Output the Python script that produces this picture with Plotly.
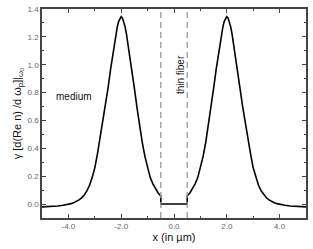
import plotly.graph_objects as go

# Curve (x in µm, y = γ[d(Re n)/dωp]|ω0)
x_vals = [-5.0, -4.8, -4.6, -4.4, -4.2, -4.0, -3.9, -3.8, -3.7, -3.6,
          -3.5, -3.4, -3.3, -3.2, -3.1, -3.0, -2.9, -2.8, -2.7, -2.6,
          -2.5, -2.4, -2.3, -2.2, -2.15, -2.1, -2.05, -2.0, -1.95, -1.9,
          -1.85, -1.8, -1.7, -1.6, -1.5, -1.4, -1.3, -1.2, -1.1, -1.0,
          -0.9, -0.8, -0.7, -0.6, -0.5, -0.5,
          0.5, 0.5, 0.6, 0.7, 0.8, 0.9,
          1.0, 1.1, 1.2, 1.3, 1.4, 1.5, 1.6, 1.7, 1.8, 1.85,
          1.9, 1.95, 2.0, 2.05, 2.1, 2.15, 2.2, 2.3, 2.4, 2.5,
          2.6, 2.7, 2.8, 2.9, 3.0, 3.1, 3.2, 3.3, 3.4, 3.5,
          3.6, 3.7, 3.8, 3.9, 4.0, 4.2, 4.4, 4.6, 4.8, 5.0]
y_vals = [-0.020, -0.019, -0.017, -0.014, -0.008, -0.002, 0.003, 0.010, 0.018, 0.030,
          0.045, 0.065, 0.095, 0.135, 0.190, 0.260, 0.360, 0.470, 0.580, 0.700,
          0.830, 0.970, 1.100, 1.220, 1.270, 1.310, 1.335, 1.345, 1.335, 1.310,
          1.270, 1.220, 1.100, 0.970, 0.830, 0.690, 0.560, 0.440, 0.340, 0.260,
          0.190, 0.145, 0.108, 0.080, 0.058, 0.000,
          0.000, 0.058, 0.080, 0.108, 0.145, 0.190,
          0.260, 0.340, 0.440, 0.560, 0.690, 0.830, 0.970, 1.100, 1.220, 1.270,
          1.310, 1.335, 1.345, 1.335, 1.310, 1.270, 1.220, 1.100, 0.970, 0.830,
          0.700, 0.580, 0.470, 0.360, 0.260, 0.190, 0.135, 0.095, 0.065, 0.045,
          0.030, 0.018, 0.010, 0.003, -0.002, -0.008, -0.014, -0.017, -0.019, -0.020]

fiber_edges = [-0.5, 0.5]
x_ticks = [-4, -2, 0, 2, 4]
x_tick_text = ["-4.0", "-2.0", "0.0", "2.0", "4.0"]
y_ticks = [0.0, 0.2, 0.4, 0.6, 0.8, 1.0, 1.2, 1.4]
y_tick_text = ["0.0", "0.2", "0.4", "0.6", "0.8", "1.0", "1.2", "1.4"]

fig = go.Figure()
fig.add_trace(go.Scatter(x=x_vals, y=y_vals, mode="lines",
                         line=dict(color="black", width=1.6), showlegend=False))

for xe in fiber_edges:
    fig.add_shape(type="line", x0=xe, x1=xe, y0=0, y1=1, xref="x", yref="paper",
                  line=dict(color="#999999", width=1.3, dash="6px,4px"))

fig.add_annotation(x=-3.79, y=0.77, text="medium", showarrow=False,
                   font=dict(size=10, color="#111"))
fig.add_annotation(x=0.25, y=0.93, text="thin fiber", showarrow=False, textangle=-90,
                   font=dict(size=10, color="#111"))

axis_common = dict(showgrid=False, zeroline=False, showline=True, mirror="allticks",
                   linecolor="#444", linewidth=1.5, ticks="inside", ticklen=4,
                   tickcolor="#444", tickfont=dict(size=8, color="#666"))

fig.update_xaxes(range=[-5, 5], tickvals=x_ticks, ticktext=x_tick_text,
                 minor=dict(ticks="inside", ticklen=2, dtick=1, tick0=-5, tickcolor="#444"),
                 title=dict(text="x (in µm)", font=dict(size=11, color="#111"), standoff=3),
                 **axis_common)
fig.update_yaxes(range=[-0.1, 1.4], tickvals=y_ticks, ticktext=y_tick_text,
                 minor=dict(ticks="inside", ticklen=2, dtick=0.1, tick0=0, tickcolor="#444"),
                 title=dict(text="γ [d(Re n) /d ω<sub>p</sub>]|<sub>ω₀</sub>",
                            font=dict(size=11, color="#111"), standoff=4),
                 **axis_common)

fig.update_layout(width=313, height=249, margin=dict(l=42, r=5, t=5, b=31),
                  plot_bgcolor="white", paper_bgcolor="white",
                  font=dict(family="Liberation Sans, Arial, sans-serif"))

fig.write_html("out.html", config={"displayModeBar": False},
               post_script="document.body.style.margin='0';document.body.style.padding='0';")
